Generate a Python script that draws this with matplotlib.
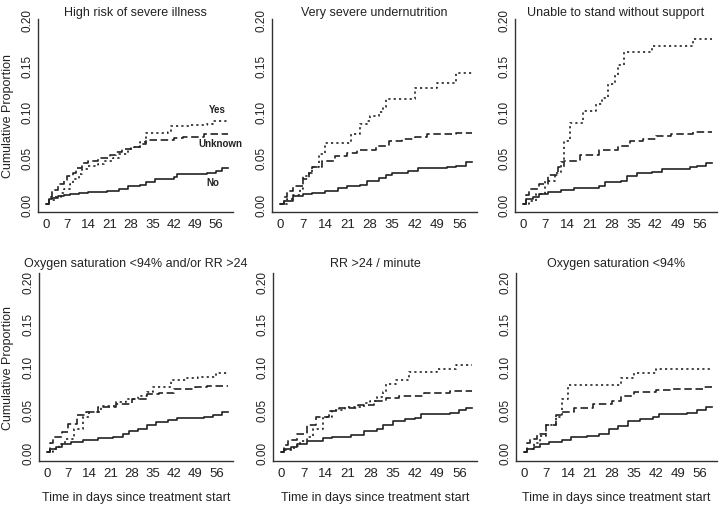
import matplotlib
matplotlib.use("Agg")
import matplotlib.pyplot as plt

plt.rcParams['font.family'] = ['Liberation Sans', 'DejaVu Sans']

# panel titles
titles = ["High risk of severe illness", "Very severe undernutrition",
          "Unable to stand without support",
          "Oxygen saturation <94% and/or RR >24", "RR >24 / minute",
          "Oxygen saturation <94%"]

# cumulative proportion (step curves)
# --- High risk of severe illness
p1_no_t = [0, 1, 2, 4, 6, 8, 11, 14, 20, 24, 27, 31, 33, 36, 42, 43, 53, 56, 58, 60]
p1_no_v = [0, 0.005, 0.007, 0.009, 0.010, 0.011, 0.012, 0.013, 0.0145, 0.016, 0.019,
           0.021, 0.024, 0.027, 0.029, 0.033, 0.034, 0.036, 0.039, 0.039]
p1_unk_t = [0, 1, 2, 4, 6, 7, 9, 10, 12, 14, 17, 21, 23, 25, 28, 31, 33, 42, 45, 52, 60]
p1_unk_v = [0, 0.008, 0.015, 0.022, 0.026, 0.030, 0.034, 0.039, 0.044, 0.047, 0.050,
            0.053, 0.056, 0.059, 0.062, 0.065, 0.069, 0.071, 0.073, 0.076, 0.076]
p1_yes_t = [0, 1, 3, 5, 6, 8, 9, 11, 12, 14, 17, 19, 22, 24, 27, 29, 31, 33, 40, 41, 47,
            53, 55, 60]
p1_yes_v = [0, 0.004, 0.008, 0.012, 0.016, 0.022, 0.027, 0.033, 0.038, 0.041, 0.043,
            0.046, 0.050, 0.054, 0.059, 0.062, 0.067, 0.077, 0.078, 0.084, 0.085, 0.086,
            0.090, 0.090]

# --- Very severe undernutrition
p2_no_t = [0, 1, 4, 7, 10, 14, 18, 21, 25, 27, 31, 33, 35, 40, 43, 52, 55, 58, 60]
p2_no_v = [0, 0.0036, 0.009, 0.011, 0.012, 0.0144, 0.017, 0.0195, 0.021, 0.025, 0.028,
           0.031, 0.034, 0.036, 0.039, 0.040, 0.0415, 0.045, 0.045]
p2_unk_t = [0, 1, 2, 4, 7, 9, 10, 13, 17, 21, 24, 30, 34, 38, 42, 46, 55, 60]
p2_unk_v = [0, 0.008, 0.014, 0.020, 0.027, 0.034, 0.040, 0.047, 0.052, 0.055, 0.058,
            0.063, 0.068, 0.070, 0.073, 0.0757, 0.077, 0.077]
p2_yes_t = [0, 2, 4, 6, 7, 9, 10, 12, 14, 21, 22, 25, 27, 28, 31, 32, 33, 40, 42, 49,
            53, 55, 60]
p2_yes_v = [0, 0.005, 0.010, 0.016, 0.030, 0.035, 0.040, 0.054, 0.066, 0.066, 0.076,
            0.086, 0.090, 0.095, 0.100, 0.105, 0.114, 0.114, 0.125, 0.131, 0.131, 0.142,
            0.142]

# --- Unable to stand without support
p3_no_t = [0, 1, 3, 5, 8, 12, 16, 24, 26, 31, 33, 36, 41, 44, 53, 55, 58, 60]
p3_no_v = [0, 0.0054, 0.0072, 0.0108, 0.0133, 0.0155, 0.017, 0.019, 0.0234, 0.025,
           0.0306, 0.0335, 0.035, 0.038, 0.0395, 0.0414, 0.0443, 0.0443]
p3_unk_t = [0, 1, 2, 5, 8, 11, 13, 18, 24, 30, 34, 38, 42, 47, 54, 60]
p3_unk_v = [0, 0.010, 0.016, 0.0216, 0.031, 0.040, 0.047, 0.053, 0.058, 0.063, 0.068,
            0.070, 0.074, 0.0757, 0.0775, 0.0775]
p3_yes_t = [0, 2, 4, 7, 10, 12, 13, 15, 19, 23, 25, 27, 29, 30, 32, 41, 54, 60]
p3_yes_v = [0, 0.0036, 0.011, 0.025, 0.034, 0.045, 0.068, 0.088, 0.101, 0.108, 0.115,
            0.130, 0.139, 0.150, 0.164, 0.171, 0.178, 0.178]

# --- Oxygen saturation <94% and/or RR >24
p4_no_t = [0, 1, 3, 5, 8, 12, 17, 22, 25, 27, 30, 33, 36, 40, 43, 52, 55, 58, 60]
p4_no_v = [0, 0.0035, 0.0055, 0.0094, 0.012, 0.0145, 0.016, 0.018, 0.021, 0.025, 0.027,
           0.032, 0.035, 0.037, 0.0396, 0.041, 0.043, 0.0467, 0.0467]
p4_unk_t = [0, 1, 2, 5, 7, 10, 13, 17, 23, 28, 33, 37, 42, 49, 53, 60]
p4_unk_v = [0, 0.010, 0.017, 0.023, 0.033, 0.043, 0.047, 0.0525, 0.0565, 0.062, 0.068,
            0.069, 0.074, 0.076, 0.077, 0.077]
p4_yes_t = [0, 2, 4, 6, 9, 12, 14, 18, 23, 26, 30, 33, 35, 39, 41, 46, 50, 56, 60]
p4_yes_v = [0, 0.0035, 0.0094, 0.015, 0.027, 0.041, 0.047, 0.054, 0.058, 0.062, 0.066,
            0.070, 0.076, 0.076, 0.084, 0.086, 0.088, 0.092, 0.092]

# --- RR >24 / minute
p5_no_t = [0, 1, 3, 5, 8, 13, 16, 22, 26, 30, 32, 35, 39, 42, 44, 53, 56, 58, 60]
p5_no_v = [0, 0.0035, 0.0055, 0.0094, 0.0133, 0.016, 0.018, 0.020, 0.024, 0.027, 0.031,
           0.0357, 0.038, 0.0396, 0.0447, 0.046, 0.0486, 0.051, 0.051]
p5_unk_t = [0, 1, 2, 5, 8, 11, 15, 18, 24, 29, 33, 37, 42, 45, 53, 60]
p5_unk_v = [0, 0.008, 0.0145, 0.021, 0.031, 0.041, 0.0475, 0.051, 0.055, 0.060, 0.063,
            0.066, 0.066, 0.069, 0.071, 0.071]
p5_yes_t = [0, 1, 4, 6, 8, 10, 13, 16, 20, 26, 28, 30, 32, 33, 36, 40, 48, 49, 55, 60]
p5_yes_v = [0, 0.002, 0.0075, 0.013, 0.018, 0.027, 0.041, 0.0486, 0.0525, 0.0576, 0.060,
            0.064, 0.070, 0.079, 0.084, 0.093, 0.093, 0.097, 0.1015, 0.1015]

# --- Oxygen saturation <94%
p6_no_t = [0, 1, 3, 5, 8, 12, 15, 20, 24, 27, 30, 33, 37, 41, 43, 52, 55, 58, 60]
p6_no_v = [0, 0.0035, 0.0055, 0.0094, 0.012, 0.0145, 0.0173, 0.019, 0.021, 0.027, 0.030,
           0.0357, 0.0388, 0.041, 0.0447, 0.046, 0.0486, 0.0525, 0.0525]
p6_unk_t = [0, 1, 2, 4, 7, 10, 12, 16, 22, 28, 31, 35, 42, 47, 57, 60]
p6_unk_v = [0, 0.010, 0.0155, 0.021, 0.031, 0.043, 0.047, 0.051, 0.0565, 0.060, 0.066,
            0.070, 0.072, 0.074, 0.076, 0.076]
p6_yes_t = [0, 1, 3, 5, 7, 10, 12, 14, 30, 31, 35, 42, 60]
p6_yes_v = [0, 0.0035, 0.011, 0.019, 0.032, 0.041, 0.062, 0.078, 0.078, 0.086, 0.092,
            0.0976, 0.0976]

panels = [
    (p1_no_t, p1_no_v, p1_unk_t, p1_unk_v, p1_yes_t, p1_yes_v),
    (p2_no_t, p2_no_v, p2_unk_t, p2_unk_v, p2_yes_t, p2_yes_v),
    (p3_no_t, p3_no_v, p3_unk_t, p3_unk_v, p3_yes_t, p3_yes_v),
    (p4_no_t, p4_no_v, p4_unk_t, p4_unk_v, p4_yes_t, p4_yes_v),
    (p5_no_t, p5_no_v, p5_unk_t, p5_unk_v, p5_yes_t, p5_yes_v),
    (p6_no_t, p6_no_v, p6_unk_t, p6_unk_v, p6_yes_t, p6_yes_v),
]

x_ticks = [0, 7, 14, 21, 28, 35, 42, 49, 56]
y_ticks = [0.00, 0.05, 0.10, 0.15, 0.20]
y_ticklabels = ["0.00", "0.05", "0.10", "0.15", "0.20"]
group_labels = ["Yes", "Unknown", "No"]

W, H = 720, 506
INK = '#222222'

fig = plt.figure(figsize=(W / 100, H / 100), dpi=100)

# axes boxes in pixels: left, right, top, bottom
boxes = [(38, 233, 20, 213), (272, 477, 20, 213), (515, 717, 20, 213),
         (39, 233, 274, 462), (273, 477, 274, 462), (516, 717, 274, 462)]

for i, (box, data) in enumerate(zip(boxes, panels)):
    l, r, t, b = box
    ax = fig.add_axes([l / W, (H - b) / H, (r - l) / W, (b - t) / H])
    no_t, no_v, unk_t, unk_v, yes_t, yes_v = data
    ax.step(no_t, no_v, where='post', color=INK, lw=1.2)
    ax.step(unk_t, unk_v, where='post', color=INK, lw=1.2, dashes=(4.5, 2.2))
    ax.step(yes_t, yes_v, where='post', color=INK, lw=1.2, dashes=(1.3, 1.9))

    ax.set_xlim(-2.6, 61.5)
    if i < 3:
        ax.set_ylim(-0.0086, 0.2)
    else:
        ax.set_ylim(-0.0106, 0.2094)
    ax.set_xticks(x_ticks)
    ax.set_yticks(y_ticks)
    ax.set_yticklabels(y_ticklabels, rotation=90, va='center')
    ax.tick_params(axis='x', length=0, pad=4, labelsize=9.5, labelcolor=INK)
    ax.tick_params(axis='y', length=0, pad=3, labelsize=8.5, labelcolor=INK)
    for s in ['top', 'right']:
        ax.spines[s].set_visible(False)
    for s in ['left', 'bottom']:
        ax.spines[s].set_color('#333333')
        ax.spines[s].set_linewidth(1.0)
    ax.set_title(titles[i], fontsize=9, color=INK, pad=3 if i < 3 else 5)

    if i == 0:
        ax.text(56.3, 0.103, group_labels[0], fontsize=7, fontweight='bold',
                color=INK, ha='center', va='center')
        ax.text(57.5, 0.066, group_labels[1], fontsize=7, fontweight='bold',
                color=INK, ha='center', va='center', clip_on=False)
        ax.text(55, 0.024, group_labels[2], fontsize=7, fontweight='bold',
                color=INK, ha='center', va='center')

    if i in (0, 3):
        fig.text(8 / W, 1 - ((t + b) / 2) / H, "Cumulative Proportion", rotation=90,
                 fontsize=9, color=INK, ha='center', va='center')
    if i >= 3:
        fig.text(((l + r) / 2) / W, 1 - 498 / H, "Time in days since treatment start",
                 fontsize=9, color=INK, ha='center', va='center')

fig.savefig("out.png", dpi=100, facecolor='white')
